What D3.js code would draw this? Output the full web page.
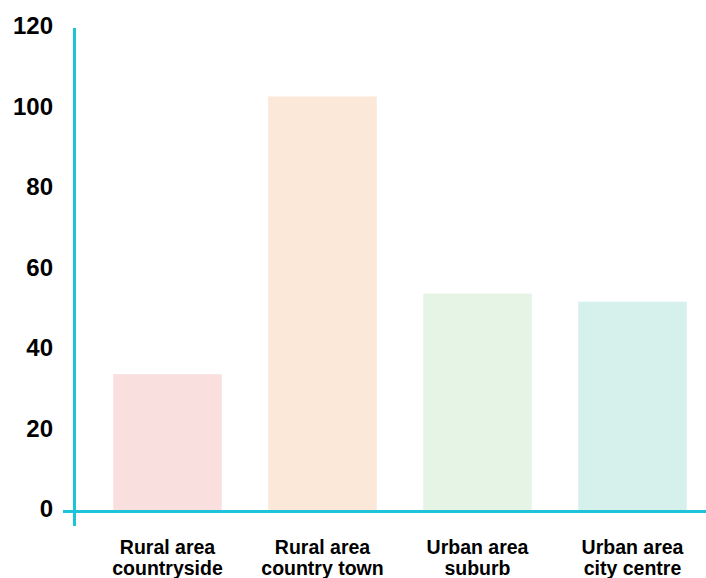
<!DOCTYPE html>
<html>
<head>
<meta charset="utf-8">
<script src="https://cdn.jsdelivr.net/npm/d3@7"></script>
<style>
  html, body { margin: 0; padding: 0; background: #fff; }
  svg { display: block; font-family: "Liberation Sans", Arial, Helvetica, sans-serif; }
</style>
</head>
<body>
<svg id="chart" width="706" height="578"></svg>
<script>
const categories = ["countryside", "country town", "suburb", "city centre"];
const groups = ["Rural area", "Rural area", "Urban area", "Urban area"];
const values = [34, 103, 54, 52];
const barColors = ["#fadfdf", "#fbe8d9", "#e6f4e5", "#d6f0ec"];
const yTicks = [0, 20, 40, 60, 80, 100, 120];

const width = 706, height = 578;
const axisColor = "#1fc3d9";
const svg = d3.select("#chart");

const x = d3.scaleBand()
    .domain(categories)
    .range([74.5, 725.5])
    .paddingInner(0.3)
    .paddingOuter(0.25);

const y = d3.scaleLinear()
    .domain([0, 120])
    .range([511, 28]);

// bars
svg.append("g")
    .selectAll("rect")
    .data(values)
    .enter()
    .append("rect")
    .attr("x", (d, i) => x(categories[i]))
    .attr("y", d => y(d))
    .attr("width", x.bandwidth())
    .attr("height", d => y(0) - y(d))
    .style("fill", (d, i) => barColors[i]);

// y tick labels
svg.append("g")
    .selectAll("text")
    .data(yTicks)
    .enter()
    .append("text")
    .attr("x", 53)
    .attr("y", d => y(d) - 2)
    .attr("dy", "0.35em")
    .attr("text-anchor", "end")
    .attr("font-size", "24px")
    .attr("font-weight", "bold")
    .attr("fill", "#000")
    .text(d => d);

// x labels, two lines each
const xLabels = svg.append("g")
    .selectAll("text")
    .data(categories)
    .enter()
    .append("text")
    .attr("x", d => x(d) + x.bandwidth() / 2)
    .attr("y", 554)
    .attr("text-anchor", "middle")
    .attr("font-size", "19.5px")
    .attr("font-weight", "bold")
    .attr("fill", "#000");
xLabels.append("tspan")
    .attr("x", d => x(d) + x.bandwidth() / 2)
    .text((d, i) => groups[i]);
xLabels.append("tspan")
    .attr("x", d => x(d) + x.bandwidth() / 2)
    .attr("dy", 21)
    .text(d => d);

// axis lines
svg.append("line")
    .attr("x1", 63).attr("x2", width)
    .attr("y1", y(0) + 0.5).attr("y2", y(0) + 0.5)
    .style("stroke", axisColor)
    .style("stroke-width", 3);

svg.append("line")
    .attr("x1", 74.5).attr("x2", 74.5)
    .attr("y1", y(120)).attr("y2", 526)
    .style("stroke", axisColor)
    .style("stroke-width", 3);
</script>
</body>
</html>
